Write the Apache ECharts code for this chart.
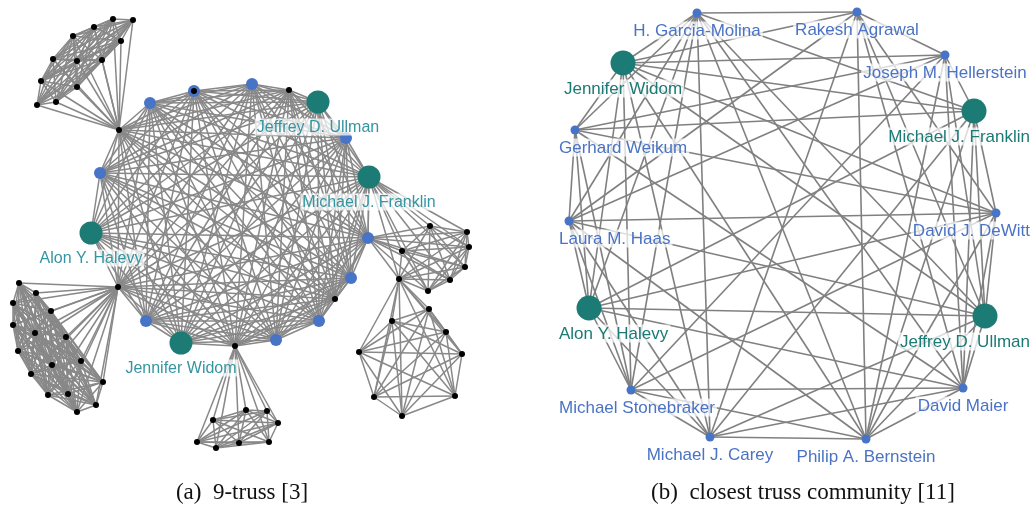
<!DOCTYPE html>
<html>
<head>
<meta charset="utf-8">
<script src="https://cdn.jsdelivr.net/npm/echarts@6/dist/echarts.min.js"></script>
<style>
  html, body { margin: 0; padding: 0; background: #ffffff; }
  #chart { width: 1034px; height: 517px; }
</style>
</head>
<body>
<div id="chart"></div>
<script>
// ---------- (a) 9-truss ----------
// node: [id, role, layoutX, layoutY]; role: 'author' (highlighted), 'core', 'member'
const trussNodes = [
  ['c0', 'core', 150, 103],
  ['c1', 'core', 194, 91],
  ['c1b', 'member', 194, 91],
  ['c2', 'core', 252, 84],
  ['c3', 'member', 289, 90],
  ['Jeffrey D. Ullman', 'author', 318, 102],
  ['c5', 'core', 346, 138],
  ['Michael J. Franklin', 'author', 369, 177],
  ['c7', 'core', 368, 238],
  ['c8', 'core', 351, 278],
  ['c9', 'member', 335, 299],
  ['c10', 'core', 319, 321],
  ['c11', 'core', 276, 340],
  ['c12', 'member', 235, 346],
  ['Jennifer Widom', 'author', 181, 343],
  ['c14', 'core', 146, 321],
  ['c15', 'member', 118, 287],
  ['Alon Y. Halevy', 'author', 91, 233],
  ['c17', 'core', 100, 173],
  ['c18', 'member', 119, 130],
  // upper-left group
  ['t0', 'member', 113, 19], ['t1', 'member', 133, 20], ['t2', 'member', 94, 27],
  ['t3', 'member', 73, 36], ['t4', 'member', 121, 41], ['t5', 'member', 53, 59],
  ['t6', 'member', 77, 61], ['t7', 'member', 102, 60], ['t8', 'member', 41, 81],
  ['t9', 'member', 77, 87], ['t10', 'member', 37, 105], ['t11', 'member', 56, 102],
  // right group
  ['r0', 'member', 430, 226], ['r1', 'member', 467, 232], ['r2', 'member', 469, 247],
  ['r3', 'member', 402, 251], ['r4', 'member', 465, 267], ['r5', 'member', 450, 280],
  ['r6', 'member', 399, 279], ['r7', 'member', 428, 291],
  // lower-right group
  ['h0', 'member', 429, 309], ['h1', 'member', 392, 321], ['h2', 'member', 446, 332],
  ['h3', 'member', 359, 352], ['h4', 'member', 462, 354], ['h5', 'member', 374, 397],
  ['h6', 'member', 455, 396], ['h7', 'member', 402, 416],
  // bottom group
  ['b0', 'member', 213, 420], ['b1', 'member', 246, 410], ['b2', 'member', 267, 411],
  ['b3', 'member', 278, 423], ['b4', 'member', 197, 442], ['b5', 'member', 216, 448],
  ['b6', 'member', 239, 443], ['b7', 'member', 269, 442],
  // lower-left group
  ['l0', 'member', 19, 283], ['l1', 'member', 36, 293], ['l2', 'member', 13, 303],
  ['l3', 'member', 51, 311], ['l4', 'member', 13, 325], ['l5', 'member', 35, 333],
  ['l6', 'member', 66, 337], ['l7', 'member', 18, 351], ['l8', 'member', 52, 365],
  ['l9', 'member', 81, 361], ['l10', 'member', 31, 374], ['l11', 'member', 103, 382],
  ['l12', 'member', 48, 395], ['l13', 'member', 68, 394], ['l14', 'member', 96, 405],
  ['l15', 'member', 77, 412]
];

// every group below is a clique: all of its members are linked pairwise
const trussCliques = [
  ['c0', 'c1', 'c2', 'c3', 'Jeffrey D. Ullman', 'c5', 'Michael J. Franklin', 'c7', 'c8', 'c9',
   'c10', 'c11', 'c12', 'Jennifer Widom', 'c14', 'c15', 'Alon Y. Halevy', 'c17', 'c18'],
  ['c18', 't0', 't1', 't2', 't3', 't4', 't5', 't6', 't7', 't8', 't9', 't10', 't11'],
  ['Michael J. Franklin', 'c7', 'r0', 'r1', 'r2', 'r3', 'r4', 'r5', 'r6', 'r7'],
  ['r6', 'h0', 'h1', 'h2', 'h3', 'h4', 'h5', 'h6', 'h7'],
  ['c12', 'b0', 'b1', 'b2', 'b3', 'b4', 'b5', 'b6', 'b7'],
  ['c15', 'l0', 'l1', 'l2', 'l3', 'l4', 'l5', 'l6', 'l7', 'l8', 'l9', 'l10', 'l11', 'l12',
   'l13', 'l14', 'l15']
];

// ---------- (b) closest truss community ----------
const communityNodes = [
  ['H. Garcia-Molina', 'core', 697, 13],
  ['Rakesh Agrawal', 'core', 857, 12],
  ['Joseph M. Hellerstein', 'core', 945, 55],
  ['Michael J. Franklin', 'author', 974, 111],
  ['David J. DeWitt', 'core', 996, 213],
  ['Jeffrey D. Ullman', 'author', 985, 316],
  ['David Maier', 'core', 963, 388],
  ['Philip A. Bernstein', 'core', 866, 439],
  ['Michael J. Carey', 'core', 710, 437],
  ['Michael Stonebraker', 'core', 631, 390],
  ['Alon Y. Halevy', 'author', 589, 308],
  ['Laura M. Haas', 'core', 569, 221],
  ['Gerhard Weikum', 'core', 575, 130],
  ['Jennifer Widom', 'author', 623, 63]
];
const communityLinks = [
  ['H. Garcia-Molina', 'Rakesh Agrawal'], ['H. Garcia-Molina', 'Michael J. Franklin'],
  ['H. Garcia-Molina', 'Jeffrey D. Ullman'], ['H. Garcia-Molina', 'David Maier'],
  ['H. Garcia-Molina', 'Philip A. Bernstein'], ['H. Garcia-Molina', 'Michael J. Carey'],
  ['H. Garcia-Molina', 'Michael Stonebraker'], ['H. Garcia-Molina', 'Alon Y. Halevy'],
  ['H. Garcia-Molina', 'Laura M. Haas'], ['H. Garcia-Molina', 'Gerhard Weikum'],
  ['H. Garcia-Molina', 'Jennifer Widom'],
  ['Rakesh Agrawal', 'Joseph M. Hellerstein'], ['Rakesh Agrawal', 'David J. DeWitt'],
  ['Rakesh Agrawal', 'Jeffrey D. Ullman'], ['Rakesh Agrawal', 'David Maier'],
  ['Rakesh Agrawal', 'Philip A. Bernstein'], ['Rakesh Agrawal', 'Michael J. Carey'],
  ['Rakesh Agrawal', 'Laura M. Haas'], ['Rakesh Agrawal', 'Jennifer Widom'],
  ['Joseph M. Hellerstein', 'Michael J. Franklin'], ['Joseph M. Hellerstein', 'Jeffrey D. Ullman'],
  ['Joseph M. Hellerstein', 'David Maier'], ['Joseph M. Hellerstein', 'Philip A. Bernstein'],
  ['Joseph M. Hellerstein', 'Michael Stonebraker'], ['Joseph M. Hellerstein', 'Laura M. Haas'],
  ['Joseph M. Hellerstein', 'Gerhard Weikum'], ['Joseph M. Hellerstein', 'Jennifer Widom'],
  ['Michael J. Franklin', 'David J. DeWitt'], ['Michael J. Franklin', 'Jeffrey D. Ullman'],
  ['Michael J. Franklin', 'David Maier'], ['Michael J. Franklin', 'Philip A. Bernstein'],
  ['Michael J. Franklin', 'Michael J. Carey'], ['Michael J. Franklin', 'Alon Y. Halevy'],
  ['Michael J. Franklin', 'Gerhard Weikum'], ['Michael J. Franklin', 'Jennifer Widom'],
  ['David J. DeWitt', 'Jeffrey D. Ullman'], ['David J. DeWitt', 'David Maier'],
  ['David J. DeWitt', 'Philip A. Bernstein'], ['David J. DeWitt', 'Michael Stonebraker'],
  ['David J. DeWitt', 'Alon Y. Halevy'], ['David J. DeWitt', 'Laura M. Haas'],
  ['David J. DeWitt', 'Gerhard Weikum'], ['David J. DeWitt', 'Jennifer Widom'],
  ['Jeffrey D. Ullman', 'David Maier'], ['Jeffrey D. Ullman', 'Philip A. Bernstein'],
  ['Jeffrey D. Ullman', 'Michael J. Carey'], ['Jeffrey D. Ullman', 'Alon Y. Halevy'],
  ['Jeffrey D. Ullman', 'Laura M. Haas'], ['Jeffrey D. Ullman', 'Jennifer Widom'],
  ['David Maier', 'Philip A. Bernstein'], ['David Maier', 'Michael J. Carey'],
  ['David Maier', 'Michael Stonebraker'], ['David Maier', 'Alon Y. Halevy'],
  ['David Maier', 'Gerhard Weikum'],
  ['Philip A. Bernstein', 'Michael J. Carey'], ['Philip A. Bernstein', 'Michael Stonebraker'],
  ['Philip A. Bernstein', 'Laura M. Haas'], ['Philip A. Bernstein', 'Jennifer Widom'],
  ['Michael J. Carey', 'Michael Stonebraker'], ['Michael J. Carey', 'Alon Y. Halevy'],
  ['Michael J. Carey', 'Laura M. Haas'], ['Michael J. Carey', 'Jennifer Widom'],
  ['Michael Stonebraker', 'Alon Y. Halevy'], ['Michael Stonebraker', 'Laura M. Haas'],
  ['Michael Stonebraker', 'Gerhard Weikum'], ['Michael Stonebraker', 'Jennifer Widom'],
  ['Alon Y. Halevy', 'Laura M. Haas'], ['Alon Y. Halevy', 'Gerhard Weikum'],
  ['Alon Y. Halevy', 'Jennifer Widom'],
  ['Laura M. Haas', 'Gerhard Weikum'],
  ['Gerhard Weikum', 'Jennifer Widom']
];

const captions = ['(a)  9-truss [3]', '(b)  closest truss community [11]'];

// ---------- styling ----------
const TEAL = '#1d7b75';
const BLUE = '#4774c6';
const leftStyle = {
  author: { size: 23, color: TEAL },
  core:   { size: 12, color: BLUE },
  member: { size: 6,  color: '#000000' }
};
const rightStyle = {
  author: { size: 25, color: TEAL, text: '#1b7a74' },
  core:   { size: 9,  color: BLUE, text: '#4a73c4' }
};
const labelBase = {
  position: 'bottom',
  fontFamily: '"Liberation Sans", Arial, sans-serif',
  backgroundColor: 'rgba(255,255,255,0.72)',
  padding: [1, 2, 0, 2]
};

// links of (a) come from its cliques
const trussLinks = [];
trussCliques.forEach(group => {
  for (let i = 0; i < group.length; i++) {
    for (let j = i + 1; j < group.length; j++) {
      trussLinks.push({ source: group[i], target: group[j] });
    }
  }
});

const trussData = trussNodes.map(([id, role, x, y]) => ({
  name: id,
  value: [x, y],
  symbolSize: leftStyle[role].size,
  itemStyle: { color: leftStyle[role].color },
  label: role === 'author'
    ? Object.assign({ show: true, fontSize: 16, distance: 5, color: '#3595a0' }, labelBase)
    : { show: false }
}));

const communityData = communityNodes.map(([name, role, x, y]) => ({
  name: name,
  value: [x, y],
  symbolSize: rightStyle[role].size,
  itemStyle: { color: rightStyle[role].color },
  label: Object.assign({ show: true, fontSize: 17, distance: 4, color: rightStyle[role].text }, labelBase)
}));

const chart = echarts.init(document.getElementById('chart'), null, { renderer: 'canvas' });
chart.setOption({
  backgroundColor: '#ffffff',
  animation: false,
  grid: { left: 0, right: 0, top: 0, bottom: 0 },
  xAxis: { type: 'value', min: 0, max: 1034, show: false },
  yAxis: { type: 'value', min: 0, max: 517, inverse: true, show: false },
  series: [
    {
      type: 'graph',
      coordinateSystem: 'cartesian2d',
      silent: true,
      data: trussData,
      links: trussLinks,
      lineStyle: { color: '#888888', width: 1.5, opacity: 1, curveness: 0 },
      z: 2
    },
    {
      type: 'graph',
      coordinateSystem: 'cartesian2d',
      silent: true,
      data: communityData,
      links: communityLinks.map(([s, t]) => ({ source: s, target: t })),
      lineStyle: { color: '#808080', width: 1.6, opacity: 1, curveness: 0 },
      labelLayout: function (p) {
        // keep the names inside the right-hand panel
        const r = p.labelRect;
        let dx = 0;
        if (r.x < 557) dx = 557 - r.x;
        if (r.x + r.width > 1032) dx = 1032 - (r.x + r.width);
        return { dx: dx };
      },
      z: 2
    }
  ],
  graphic: captions.map((text, i) => ({
    type: 'text',
    x: i === 0 ? 242 : 803,
    y: 493,
    style: {
      text: text,
      textAlign: 'center',
      textVerticalAlign: 'middle',
      font: '23px "Liberation Serif", "Times New Roman", serif',
      fill: '#111111'
    }
  }))
});
</script>
</body>
</html>
